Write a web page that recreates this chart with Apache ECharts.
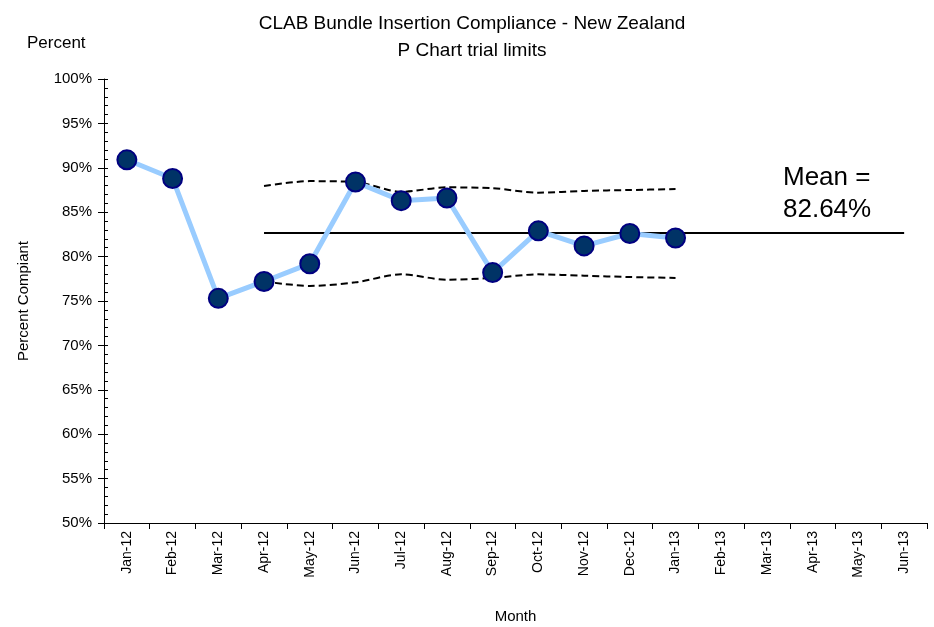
<!DOCTYPE html>
<html>
<head>
<meta charset="utf-8">
<script src="https://cdn.jsdelivr.net/npm/echarts@6/dist/echarts.min.js"></script>
<style>
  html, body { margin: 0; padding: 0; background: #fff; }
  #main { width: 934px; height: 627px; }
</style>
</head>
<body>
<div id="main"></div>
<script>
// 月份
var months = ['Jan-12', 'Feb-12', 'Mar-12', 'Apr-12', 'May-12', 'Jun-12', 'Jul-12', 'Aug-12', 'Sep-12',
    'Oct-12', 'Nov-12', 'Dec-12', 'Jan-13', 'Feb-13', 'Mar-13', 'Apr-13', 'May-13', 'Jun-13'];
// 合规百分比
var compliance = [90.9, 88.8, 75.3, 77.2, 79.2, 88.4, 86.3, 86.6, 78.2, 82.9, 81.2, 82.6, 82.1];
// 控制上限 / 下限 (从Apr-12开始)
var ucl = [null, null, null, 87.95, 88.5, 88.4, 87.3, 87.8, 87.7, 87.2, 87.4, 87.5, 87.6];
var lcl = [null, null, null, 77.2, 76.7, 77.1, 78.0, 77.4, 77.6, 78.0, 77.85, 77.7, 77.6];
var meanValue = 82.64;
var meanStart = 'Apr-12';
var meanEnd = 'Jun-13';

var font = 'Liberation Sans, Arial, sans-serif';
var chart = echarts.init(document.getElementById('main'));

var limitStyle = {
    type: 'line',
    data: null,
    smooth: 0.3,
    symbol: 'none',
    connectNulls: false,
    lineStyle: { color: '#000', width: 2, type: [7, 4] },
    z: 2,
    silent: true
};

var option = {
    animation: false,
    backgroundColor: '#fff',
    title: [{
        text: 'CLAB Bundle Insertion Compliance - New Zealand\nP Chart trial limits',
        left: 467,
        textAlign: 'center',
        top: 5,
        textStyle: { fontFamily: font, fontSize: 19, fontWeight: 'normal', color: '#000', lineHeight: 27 }
    }, {
        text: 'Percent',
        left: 22,
        top: 30,
        textStyle: { fontFamily: font, fontSize: 17, fontWeight: 'normal', color: '#000' }
    }],
    graphic: [{
        type: 'text',
        left: 783,
        top: 162,
        style: {
            text: 'Mean =\n' + meanValue.toFixed(2) + '%',
            font: '26px ' + font,
            fill: '#000',
            lineHeight: 32
        }
    }],
    grid: { left: 104, right: 7, top: 79, bottom: 104, outerBoundsMode: 'none', containLabel: false },
    xAxis: {
        type: 'category',
        data: months,
        boundaryGap: true,
        name: 'Month',
        nameLocation: 'middle',
        nameGap: 86,
        nameTextStyle: { fontFamily: font, fontSize: 15, color: '#000' },
        axisLine: { lineStyle: { color: '#000', width: 1 } },
        axisTick: { show: true, alignWithLabel: false, length: 6, lineStyle: { color: '#000' } },
        axisLabel: { rotate: 90, interval: 0, margin: 8, fontFamily: font, fontSize: 14, color: '#000' },
        splitLine: { show: false }
    },
    yAxis: [{
        type: 'value',
        min: 50,
        max: 100,
        interval: 5,
        name: 'Percent Compiant',
        nameLocation: 'middle',
        nameGap: 73,
        nameTextStyle: { fontFamily: font, fontSize: 15, color: '#000' },
        axisLine: { show: true, lineStyle: { color: '#000' } },
        axisTick: { show: true, length: 6, lineStyle: { color: '#000' } },
        axisLabel: { margin: 12, fontFamily: font, fontSize: 15, color: '#000', formatter: '{value}%' },
        splitLine: { show: false }
    }, {
        // 内侧的小刻度
        type: 'value',
        position: 'left',
        min: 50,
        max: 100,
        interval: 5,
        axisLine: { show: false },
        axisTick: { show: true, inside: true, length: 4, lineStyle: { color: '#000' } },
        minorTick: { show: true, splitNumber: 5, length: 4, lineStyle: { color: '#000' } },
        axisLabel: { show: false },
        splitLine: { show: false }
    }],
    series: [
        Object.assign({}, limitStyle, { name: 'UCL', data: ucl }),
        Object.assign({}, limitStyle, { name: 'LCL', data: lcl }),
        {
            name: 'Mean',
            type: 'line',
            data: [],
            silent: true,
            markLine: {
                symbol: 'none',
                silent: true,
                label: { show: false },
                lineStyle: { color: '#000', width: 2, type: 'solid' },
                data: [[{ coord: [meanStart, meanValue] }, { coord: [meanEnd, meanValue] }]]
            }
        },
        {
            name: 'Percent Compliant',
            type: 'line',
            data: compliance,
            symbol: 'circle',
            symbolSize: 19,
            lineStyle: { color: '#99CCFF', width: 5 },
            itemStyle: { color: '#003366', borderColor: '#000080', borderWidth: 2 },
            z: 5
        }
    ]
};
chart.setOption(option);
</script>
</body>
</html>
